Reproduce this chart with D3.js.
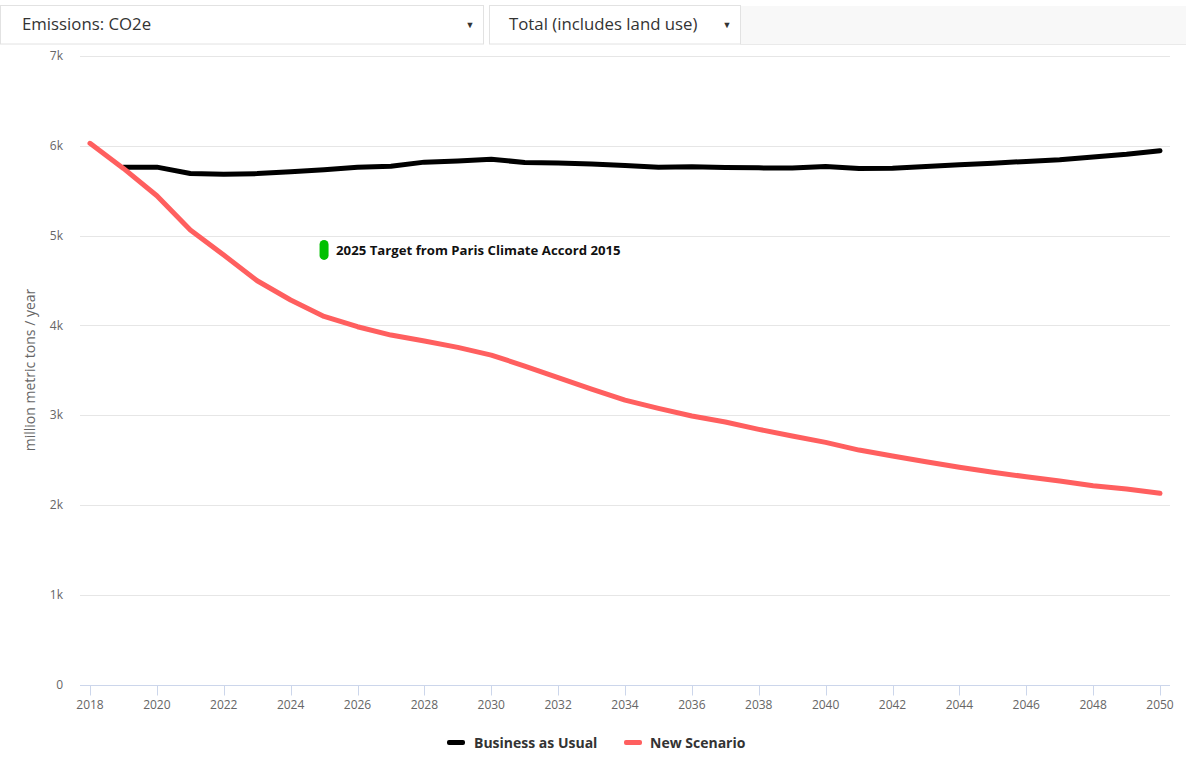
<!DOCTYPE html>
<html>
<head>
<meta charset="utf-8">
<script src="https://cdn.jsdelivr.net/npm/d3@7"></script>
<style>
  html, body { margin: 0; padding: 0; background: #fff; }
  svg { display: block; font-family: "Open Sans", "Noto Sans", sans-serif; }
</style>
</head>
<body>
<svg id="chart" width="1186" height="767"></svg>
<script>
// ---- data ----
const years = d3.range(2018, 2051);
const businessAsUsual = [null, 5762, 5762, 5692, 5682, 5690, 5712, 5734, 5760, 5772, 5818, 5830, 5850, 5814, 5808, 5798, 5780, 5762, 5767, 5758, 5754, 5752, 5768, 5746, 5750, 5768, 5788, 5806, 5826, 5845, 5876, 5905, 5945];
const newScenario = [6027, 5748, 5443, 5061, 4783, 4497, 4282, 4100, 3985, 3892, 3825, 3755, 3669, 3547, 3417, 3291, 3168, 3075, 2990, 2924, 2842, 2767, 2697, 2611, 2545, 2481, 2419, 2363, 2314, 2266, 2214, 2177, 2129];
const yTicks = [0, 1000, 2000, 3000, 4000, 5000, 6000, 7000];
const yTickLabels = ["0", "1k", "2k", "3k", "4k", "5k", "6k", "7k"];
const xTicks = d3.range(2018, 2051, 2);
const targetYear = [2025];
const targetValue = [4840];
const targetLabel = "2025 Target from Paris Climate Accord 2015";
const seriesNames = ["Business as Usual", "New Scenario"];
const seriesColors = ["#000000", "#ff5f5f"];
const menuLabels = ["Emissions: CO2e", "Total (includes land use)"];
const yTitle = "million metric tons / year";

// ---- layout ----
const svg = d3.select("#chart");
const x = d3.scaleLinear().domain([2018, 2050]).range([90, 1160]);
const y = d3.scaleLinear().domain([0, 7000]).range([684.5, 56]);
const plotLeft = 80, plotRight = 1170;

// top menu bar
svg.append("rect").attr("x", 740).attr("y", 6).attr("width", 446).attr("height", 38).attr("fill", "#f8f8f8");
const menus = [{x: 0, w: 483}, {x: 489, w: 251}];
menus.forEach((m, i) => {
  svg.append("rect").attr("x", m.x + 0.5).attr("y", 5.5).attr("width", m.w).attr("height", 38.5)
    .attr("fill", "#fff").attr("stroke", "#e2e2e2");
  svg.append("text").attr("x", m.x + (i === 0 ? 22 : 20)).attr("y", 30)
    .attr("font-size", 16.8).attr("fill", "#333").text(menuLabels[i]);
  svg.append("text").attr("x", m.x + m.w - 13).attr("y", 28).attr("text-anchor", "middle")
    .attr("font-size", 9).attr("fill", "#333").text("\u25BC");
});
svg.append("line").attr("x1", 740).attr("x2", 1186).attr("y1", 44.5).attr("y2", 44.5).attr("stroke", "#eaeaea");

// gridlines
svg.append("g").selectAll("line").data(yTicks.filter(d => d > 0)).join("line")
  .attr("x1", plotLeft).attr("x2", plotRight)
  .attr("y1", d => Math.round(y(d)) + 0.5).attr("y2", d => Math.round(y(d)) + 0.5)
  .attr("stroke", "#e6e6e6").attr("stroke-width", 1);

// y labels
svg.append("g").selectAll("text").data(yTicks).join("text")
  .attr("x", 63).attr("y", d => y(d)).attr("dy", "0.35em")
  .attr("text-anchor", "end").attr("font-size", 12).attr("fill", "#666")
  .text((d, i) => yTickLabels[i]);

// y title
svg.append("text").attr("transform", "translate(35,370) rotate(-90)")
  .attr("text-anchor", "middle").attr("font-size", 14).attr("fill", "#666").text(yTitle);

// x axis
const xAxis = svg.append("g").attr("transform", `translate(0,${Math.round(y(0)) + 0.5})`);
xAxis.append("line").attr("x1", plotLeft).attr("x2", plotRight).attr("stroke", "#ccd6eb");
xAxis.selectAll("line.tick").data(xTicks).join("line").attr("class", "tick")
  .attr("x1", d => Math.round(x(d)) + 0.5).attr("x2", d => Math.round(x(d)) + 0.5)
  .attr("y1", 0).attr("y2", 10).attr("stroke", "#ccd6eb");
xAxis.selectAll("text").data(xTicks).join("text")
  .attr("x", d => x(d)).attr("y", 23).attr("text-anchor", "middle")
  .attr("font-size", 12).attr("fill", "#666").text(d => d);

// lines
const line = d3.line().defined(d => d != null).x((d, i) => x(years[i])).y(d => y(d));
[businessAsUsual, newScenario].forEach((s, i) => {
  svg.append("path").datum(s).attr("d", line).attr("fill", "none")
    .attr("stroke", seriesColors[i]).attr("stroke-width", 5)
    .attr("stroke-linejoin", "round").attr("stroke-linecap", "round");
});

// target annotation
targetYear.forEach((ty, i) => {
  const cx = x(ty), cy = y(targetValue[i]);
  svg.append("rect").attr("x", cx - 4.5).attr("y", cy - 10).attr("width", 9).attr("height", 20)
    .attr("rx", 4.5).attr("fill", "#00c000");
  svg.append("text").attr("x", cx + 12).attr("y", cy).attr("dy", "0.35em")
    .attr("font-size", 13.2).attr("font-weight", "bold").attr("fill", "#111").text(targetLabel);
});

// legend
const legendItems = [{x: 447, tx: 474}, {x: 624, tx: 650}];
legendItems.forEach((l, i) => {
  svg.append("rect").attr("x", l.x).attr("y", 740).attr("width", 18).attr("height", 5)
    .attr("rx", 2).attr("fill", seriesColors[i]);
  svg.append("text").attr("x", l.tx).attr("y", 743).attr("dy", "0.35em")
    .attr("font-size", 14).attr("font-weight", "bold").attr("fill", "#333").text(seriesNames[i]);
});
</script>
</body>
</html>
